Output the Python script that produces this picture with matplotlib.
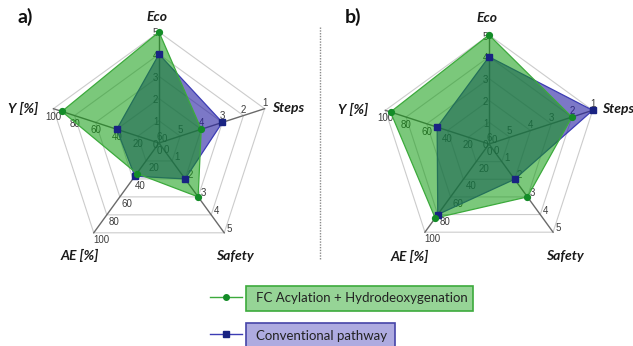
import numpy as np
import matplotlib
matplotlib.use("Agg")
import matplotlib.pyplot as plt
from matplotlib.patches import Rectangle

# ---- data -------------------------------------------------------------
criteria = ["Eco", "Steps", "Safety", "AE [%]", "Y [%]"]
# value of each criterion at the centre and at the outer ring
scale_lo = [0, 6, 0, 0, 0]
scale_hi = [5, 1, 5, 100, 100]
tick_labels = [
    ["0", "1", "2", "3", "4", "5"],
    ["6", "5", "4", "3", "2", "1"],
    ["0", "1", "2", "3", "4", "5"],
    ["0", "20", "40", "60", "80", "100"],
    ["0", "20", "40", "60", "80", "100"],
]
series_names = ["FC Acylation + Hydrodeoxygenation", "Conventional pathway"]
panel_names = ["a)", "b)"]

fc_a = [5, 4, 3, 34, 92]
conv_a = [4, 3, 2, 37, 40]
fc_b = [5, 2, 3, 84, 95]
conv_b = [4, 1, 2, 80, 50]

# ---- style ------------------------------------------------------------
W, H = 633, 346
GREEN_FILL = (15 / 255, 155 / 255, 15 / 255)
GREEN_EDGE = (60 / 255, 170 / 255, 60 / 255)
GREEN_MARK = (20 / 255, 140 / 255, 40 / 255)
BLUE_FILL = (37 / 255, 30 / 255, 163 / 255)
BLUE_EDGE = (60 / 255, 60 / 255, 180 / 255)
BLUE_MARK = (25 / 255, 35 / 255, 130 / 255)
GRID = "#cccccc"
SPOKE = "#6a6a6a"
TICK = "#3c3c3c"
TITLE_FONT = ["Lato", "DejaVu Sans"]
TICK_FONT = ["Liberation Sans", "DejaVu Sans"]

PX = 72 / 100  # pixels -> points at 100 dpi

angles = np.deg2rad(90 - 72 * np.arange(len(criteria)))
# label offsets (pixels, x right / y down) for each axis' tick labels
tick_off = [(-3.5, 1.5), (0, -6), (5, -4), (7.5, 7), (0, 8)]
# axis-title offsets from the chart centre (pixels)
title_off = [(-2, -126), (129, -35), (76, 112.5), (-79.5, 112), (-136, -34.5)]


def norm(values):
    return [(v - lo) / (hi - lo) for v, lo, hi in zip(values, scale_lo, scale_hi)]


def closed(seq):
    seq = list(seq)
    return seq + seq[:1]


def radar(fig, cx, cy, r, fc, conv):
    ax = fig.add_axes([(cx - r) / W, (H - cy - r) / H, 2 * r / W, 2 * r / H],
                      projection="polar")
    ax.set_ylim(0, 1)
    ax.axis("off")
    th = closed(angles)

    # pentagon rings
    for k in range(1, 6):
        ax.plot(th, [k / 5] * 6, color=GRID, lw=0.8, zorder=1, clip_on=False)
    # spokes
    for a in angles:
        ax.plot([a, a], [0, 1], color=SPOKE, lw=1.0, zorder=1.5, clip_on=False)
    # tick labels along every spoke
    for a, labels, (dx, dy) in zip(angles, tick_labels, tick_off):
        for k, lab in enumerate(labels):
            ax.annotate(lab, xy=(a, k / 5), xytext=(dx * PX, -dy * PX),
                        textcoords="offset points", ha="center", va="center",
                        fontsize=7, color=TICK, family=TICK_FONT, zorder=2,
                        annotation_clip=False)
    # axis titles
    for name, (dx, dy) in zip(criteria, title_off):
        ax.annotate(name, xy=(0, 0), xytext=(dx * PX, -dy * PX),
                    textcoords="offset points", ha="center", va="center",
                    fontsize=10, fontweight="bold", fontstyle="italic",
                    family=TITLE_FONT, color="#1a1a1a", annotation_clip=False)

    rc = closed(norm(conv))
    rf = closed(norm(fc))
    ax.fill(th, rc, color=BLUE_FILL, alpha=0.6, lw=0, zorder=3, clip_on=False)
    ax.plot(th, rc, color=BLUE_EDGE, lw=0.9, zorder=3.1, clip_on=False)
    ax.fill(th, rf, color=GREEN_FILL, alpha=0.55, lw=0, zorder=4, clip_on=False)
    ax.plot(th, rf, color=GREEN_EDGE, lw=0.9, zorder=4.1, clip_on=False)
    ax.plot(angles, norm(conv), ls="none", marker="s", ms=3.8,
            color=BLUE_MARK, zorder=5, clip_on=False)
    ax.plot(angles, norm(fc), ls="none", marker="o", ms=4.2,
            color=GREEN_MARK, zorder=5, clip_on=False)
    return ax


fig = plt.figure(figsize=(W / 100, H / 100), dpi=100)
fig.patch.set_facecolor("white")

radar(fig, 159, 143, 111, fc_a, conv_a)
radar(fig, 489, 144, 109, fc_b, conv_b)

# overlay in pixel units for panel tags, separator and legend
ov = fig.add_axes([0, 0, 1, 1], zorder=10)
ov.set_xlim(0, W)
ov.set_ylim(H, 0)
ov.axis("off")

ov.text(25, 17, panel_names[0], fontsize=14, fontweight="bold",
        family=TITLE_FONT, ha="center", va="center", color="#111111")
ov.text(353, 17, panel_names[1], fontsize=14, fontweight="bold",
        family=TITLE_FONT, ha="center", va="center", color="#111111")

ov.plot([319.5, 319.5], [27, 260], color="#8a8a8a", lw=1.0, ls=(0, (1, 1)))

legend_rows = [
    (series_names[0], 286, 473, GREEN_EDGE, (150 / 255, 212 / 255, 150 / 255),
     GREEN_EDGE, GREEN_MARK, "o", 4),
    (series_names[1], 323, 395, (70 / 255, 68 / 255, 168 / 255),
     (174 / 255, 171 / 255, 224 / 255), BLUE_EDGE, BLUE_MARK, "s", 4),
]
for name, top, right, edge, face, lcol, mcol, mk, ms in legend_rows:
    ov.add_patch(Rectangle((246, top), right - 246, 25, facecolor=face,
                           edgecolor=edge, lw=1.2, clip_on=False))
    yc = top + 11
    ov.plot([210, 242], [yc, yc], color=lcol, lw=1.0)
    ov.plot([226], [yc], marker=mk, ms=ms, color=mcol, ls="none")
    ov.text(256, top + 12.5, name, fontsize=9.5, family=TITLE_FONT,
            ha="left", va="center", color="#222222")

fig.savefig("out.png", dpi=100)
